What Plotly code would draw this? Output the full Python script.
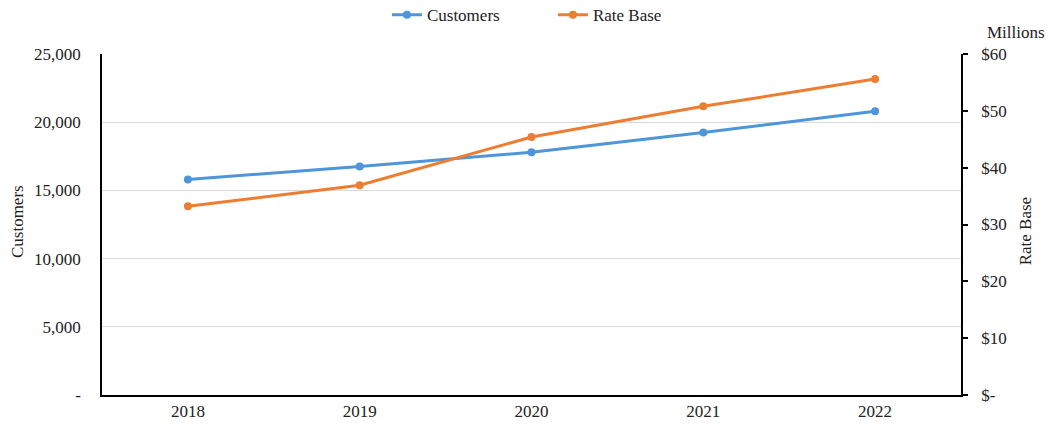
import plotly.graph_objects as go

# Yearly customer count and rate base ($ millions)
years = ["2018", "2019", "2020", "2021", "2022"]
customers = [15800, 16750, 17800, 19250, 20800]
rate_base = [33.2, 36.9, 45.4, 50.8, 55.6]

left_ticks = [0, 5000, 10000, 15000, 20000, 25000]
left_labels = ["-", "5,000", "10,000", "15,000", "20,000", "25,000"]
right_ticks = [0, 10, 20, 30, 40, 50, 60]
right_labels = ["$-", "$10", "$20", "$30", "$40", "$50", "$60"]

BLUE = "#4E95D9"
ORANGE = "#ED7D31"
FONT = "Liberation Serif, Times New Roman, serif"

fig = go.Figure()
fig.add_trace(go.Scatter(
    x=years, y=customers, name="Customers", mode="lines+markers",
    line=dict(color=BLUE, width=3), marker=dict(size=8, color=BLUE),
    yaxis="y",
))
fig.add_trace(go.Scatter(
    x=years, y=rate_base, name="Rate Base", mode="lines+markers",
    line=dict(color=ORANGE, width=3), marker=dict(size=8, color=ORANGE),
    yaxis="y2",
))

fig.update_layout(
    width=1051, height=425,
    margin=dict(l=102, r=90, t=54, b=30, autoexpand=False),
    paper_bgcolor="white", plot_bgcolor="white",
    font=dict(family=FONT, size=17, color="#222222"),
    showlegend=True,
    legend=dict(
        orientation="h", x=0.3317, xanchor="left", y=1.114, yanchor="middle",
        font=dict(family=FONT, size=17, color="#222222"),
        entrywidth=121, entrywidthmode="pixels", itemwidth=30,
        bgcolor="rgba(0,0,0,0)",
    ),
    xaxis=dict(
        type="category", range=[-0.5, 4.5],
        showline=True, linecolor="black", linewidth=1.5,
        showgrid=False, ticks="", tickfont=dict(size=17),
        zeroline=False,
    ),
    yaxis=dict(
        range=[0, 25000], tickvals=left_ticks, ticktext=left_labels,
        showline=True, linecolor="black", linewidth=1.5,
        showgrid=True, gridcolor="#D9D9D9", gridwidth=1,
        zeroline=False, ticks="", ticklabelstandoff=16,
        tickfont=dict(size=17),
    ),
    yaxis2=dict(
        range=[0, 60], tickvals=right_ticks, ticktext=right_labels,
        overlaying="y", side="right",
        showline=True, linecolor="black", linewidth=1.5,
        showgrid=False, zeroline=False,
        ticks="outside", ticklen=5, tickcolor="black", tickwidth=1.5,
        ticklabelstandoff=10, tickfont=dict(size=17),
    ),
    annotations=[
        dict(text="Customers", xref="paper", yref="paper", x=-0.099, y=0.51,
             textangle=-90, showarrow=False, font=dict(size=17),
             xanchor="center", yanchor="middle"),
        dict(text="Rate Base", xref="paper", yref="paper", x=1.0745, y=0.48,
             textangle=-90, showarrow=False, font=dict(size=17),
             xanchor="center", yanchor="middle"),
        dict(text="Millions", xref="paper", yref="paper", x=1.064, y=1.0616,
             showarrow=False, font=dict(size=17),
             xanchor="center", yanchor="middle"),
    ],
)

fig.write_html("out.html")
